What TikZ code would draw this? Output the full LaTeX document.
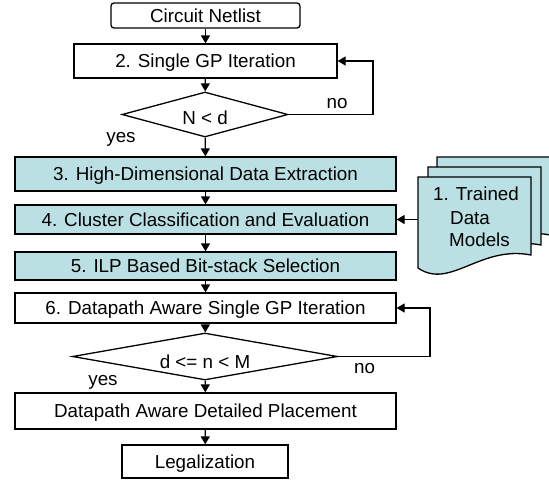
\documentclass[tikz,border=0pt]{standalone}
\usepackage{fontspec}
\setmainfont{Liberation Sans}
\usetikzlibrary{arrows.meta,shapes.geometric}
\definecolor{stagefill}{RGB}{186,224,227}
\begin{document}
\begin{tikzpicture}[x=1pt,y=-1pt,
  every node/.style={font=\fontsize{18.8}{22.6}\selectfont,inner sep=0pt,text depth=0pt},
  stagebox/.style={draw,line width=1.3pt,rectangle},
  mlbox/.style={stagebox,fill=stagefill},
  decision/.style={draw,line width=1.3pt,diamond},
  flow/.style={line width=1.3pt,-{Triangle[width=9pt,length=8pt]}},
  docsheet/.style={draw,line width=1.3pt,fill=stagefill,line join=miter}
]
\useasboundingbox (0,0) rectangle (549,483);

% main flow
\node[stagebox,rounded corners=3pt,minimum width=189pt,minimum height=25pt] (net) at (205.5,15.5) {Circuit Netlist};
\node[stagebox,minimum width=263pt,minimum height=34pt] (gp) at (205.5,61) {2. Single GP Iteration};
\node[decision,minimum width=166pt,minimum height=45pt] (d1) at (205,114.5) {};
\node (d1t) at (205,117.5) {N < d};
\node[mlbox,minimum width=381pt,minimum height=34pt] (hd) at (205.5,174) {3. High-Dimensional Data Extraction};
\node[mlbox,minimum width=381pt,minimum height=29pt] (cc) at (205.5,219.5) {4. Cluster Classification and Evaluation};
\node[mlbox,minimum width=381pt,minimum height=28pt] (ilp) at (205.5,266) {5. ILP Based Bit-stack Selection};
\node[stagebox,minimum width=381pt,minimum height=30pt] (dgp) at (205.5,308) {6. Datapath Aware Single GP Iteration};
\node[decision,minimum width=265pt,minimum height=47pt] (d2) at (205,356.5) {};
\node (d2t) at (205,362) {d <= n < M};
\node[stagebox,minimum width=381pt,minimum height=36pt] (dp) at (205.5,411) {Datapath Aware Detailed Placement};
\node[stagebox,minimum width=166pt,minimum height=33pt] (leg) at (205,461.5) {Legalization};

% trained data models: stacked document sheets
\foreach \dx/\dy in {19/-20,10/-10,0/0}{
  \draw[docsheet,shift={(\dx,\dy)}] (418,177) -- (531,177) -- (531,255)
    .. controls (480,245) and (450,290) .. (418,268) -- cycle;
}
\node[anchor=base west] (m1) at (433,200) {1. Trained};
\node[anchor=base west] (m2) at (450,224) {Data};
\node[anchor=base west] (m3) at (449,246) {Models};
\coordinate (docin) at (418,219.5);

% connectors
\draw[flow] (net) -- (gp);
\draw[flow] (gp) -- (d1);
\draw[flow] (d1) -- (hd);
\draw[flow] (hd) -- (cc);
\draw[flow] (cc) -- (ilp);
\draw[flow] (ilp) -- (dgp);
\draw[flow] (dgp) -- (d2);
\draw[flow] (d2) -- (dp);
\draw[flow] (dp) -- (leg);
\draw[flow] (docin) -- (cc.east);

\coordinate (r1) at (373,114.5);
\draw[flow] (d1.east) -- (r1) |- (gp.east);
\coordinate (r2) at (430,356.5);
\draw[flow] (d2.east) -- (r2) |- (dgp.east);

% branch labels
\node (no1) at (337,103.5) {no};
\node (yes1) at (121,137) {yes};
\node (no2) at (364.5,368) {no};
\node (yes2) at (103,380) {yes};
\end{tikzpicture}
\end{document}
